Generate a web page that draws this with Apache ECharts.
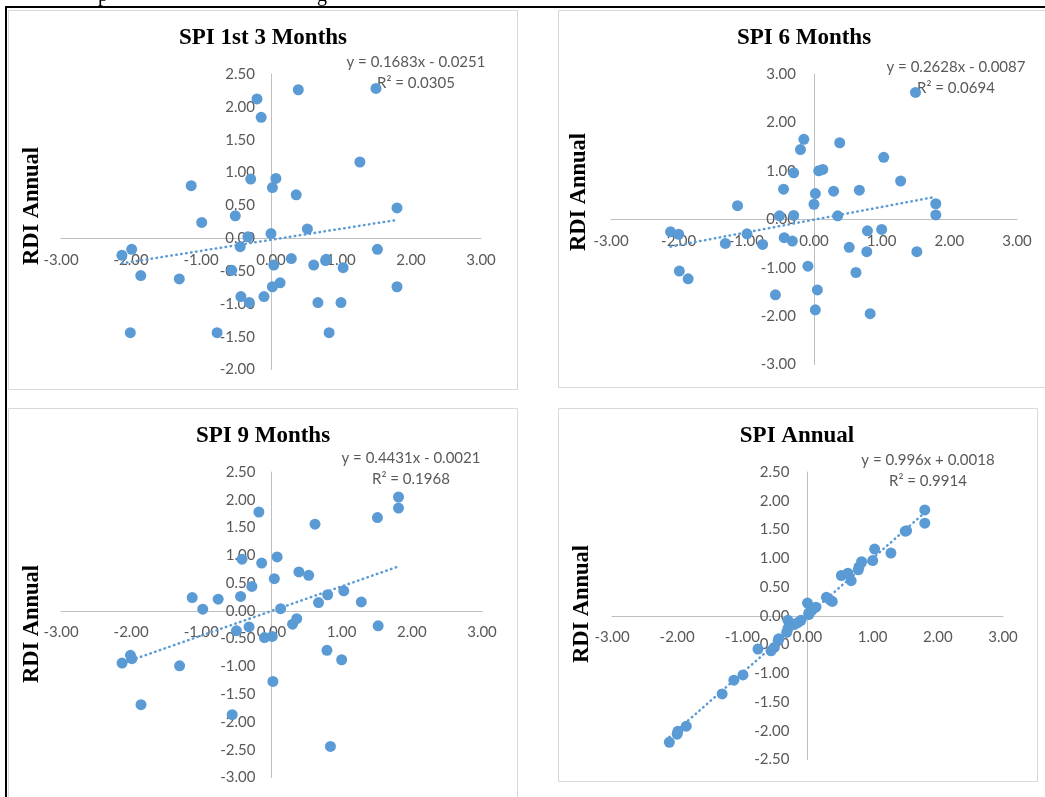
<!DOCTYPE html>
<html>
<head>
<meta charset="utf-8">
<script src="https://cdn.jsdelivr.net/npm/echarts@6/dist/echarts.min.js"></script>
<style>
  html, body { margin: 0; padding: 0; background: #fff; }
  #chart { width: 1045px; height: 797px; }
</style>
</head>
<body>
<div id="chart"></div>
<script>
// ---- data: SPI (x) vs RDI Annual (y) for each accumulation period ----
const panelTitles = ['SPI 1st 3 Months', 'SPI 6 Months', 'SPI 9 Months', 'SPI Annual'];
const yAxisName = 'RDI Annual';

const spi3X = [-2.13,-1.99,-2.01,-1.86,-1.31,-1.14,-0.99,-0.77,-0.56,-0.51,-0.44,-0.43,-0.33,-0.31,-0.29,-0.20,-0.14,-0.10,0.00,0.02,0.02,0.04,0.07,0.13,0.29,0.36,0.39,0.52,0.61,0.67,0.78,0.79,0.83,1.00,1.03,1.27,1.50,1.52,1.80,1.80];
const spi3Y = [-0.26,-0.17,-1.44,-0.57,-0.62,0.80,0.24,-1.44,-0.49,0.34,-0.13,-0.89,0.02,-0.98,0.90,2.12,1.84,-0.89,0.07,0.77,-0.74,-0.41,0.91,-0.68,-0.31,0.66,2.26,0.14,-0.41,-0.98,-0.34,-0.32,-1.44,-0.98,-0.45,1.16,2.28,-0.17,0.46,-0.74];

const spi6X = [-2.12,-2.00,-1.99,-1.86,-1.31,-1.13,-0.99,-0.76,-0.57,-0.51,-0.45,-0.44,-0.32,-0.30,-0.30,-0.20,-0.15,-0.09,0.00,0.02,0.02,0.05,0.07,0.13,0.29,0.35,0.38,0.52,0.62,0.67,0.78,0.79,0.83,1.00,1.03,1.28,1.50,1.52,1.80,1.80];
const spi6Y = [-0.26,-0.31,-1.07,-1.23,-0.50,0.28,-0.30,-0.52,-1.56,0.07,0.62,-0.38,-0.45,0.08,0.96,1.44,1.65,-0.97,0.31,0.53,-1.87,-1.46,1.00,1.03,0.58,0.07,1.58,-0.58,-1.10,0.60,-0.67,-0.24,-1.95,-0.21,1.28,0.79,2.62,-0.67,0.32,0.09];

const spi9X = [-2.13,-2.01,-1.99,-1.86,-1.31,-1.13,-0.98,-0.76,-0.56,-0.50,-0.44,-0.42,-0.32,-0.28,-0.18,-0.14,-0.10,0.01,0.02,0.04,0.08,0.13,0.30,0.36,0.39,0.53,0.62,0.67,0.79,0.80,0.84,1.00,1.03,1.28,1.51,1.52,1.81,1.81];
const spi9Y = [-0.94,-0.80,-0.86,-1.69,-0.99,0.24,0.03,0.21,-1.87,-0.36,0.26,0.93,-0.29,0.44,1.78,0.86,-0.48,-0.46,-1.27,0.58,0.97,0.04,-0.24,-0.14,0.70,0.64,1.56,0.15,-0.71,0.29,-2.44,-0.88,0.36,0.16,1.68,-0.27,2.05,1.85];

const spiAnnX = [-2.12,-2.00,-1.99,-1.86,-1.31,-1.13,-0.99,-0.76,-0.56,-0.51,-0.45,-0.44,-0.32,-0.30,-0.30,-0.20,-0.15,-0.10,0.00,0.02,0.02,0.05,0.07,0.13,0.29,0.35,0.38,0.52,0.62,0.67,0.78,0.79,0.83,1.00,1.03,1.28,1.50,1.52,1.80,1.80];
const spiAnnY = [-2.20,-2.06,-2.01,-1.92,-1.36,-1.12,-1.03,-0.58,-0.61,-0.55,-0.43,-0.40,-0.29,-0.22,-0.08,-0.15,-0.12,-0.08,0.22,0.05,0.02,0.08,0.10,0.15,0.32,0.27,0.25,0.70,0.74,0.61,0.80,0.85,0.94,0.96,1.16,1.09,1.47,1.48,1.84,1.61];

// linear trendlines: y = slope * x + intercept
const trendSlope     = [0.1683, 0.2628, 0.4431, 0.996];
const trendIntercept = [-0.0251, -0.0087, -0.0021, 0.0018];
const trendR2        = ['0.0305', '0.0694', '0.1968', '0.9914'];

// axis ranges per panel [min, max, interval]
const xRange = [-3, 3, 1];
const yRanges = [[-2, 2.5, 0.5], [-3, 3, 1], [-3, 2.5, 0.5], [-2.5, 2.5, 0.5]];

// ---- layout ----
const grids = [
  { left: 61,  top: 74,  width: 420, height: 295.5 },
  { left: 611, top: 74,  width: 406, height: 290.5 },
  { left: 61,  top: 472, width: 421, height: 305.5 },
  { left: 612, top: 472, width: 391, height: 287.5 }
];
const titlePos = [[263, 38], [804, 38], [263, 436], [797, 436]];
const namePos  = [[32, 206], [579, 192], [32, 624], [582, 604]];
const eqPos    = [[416, 62, 83], [956, 67, 88], [411, 458, 479], [928, 460, 481]];
const frames   = [
  { x: 8.5,   y: 10.5,  w: 509, h: 379 },
  { x: 558.5, y: 10.5,  w: 520, h: 377 },
  { x: 8.5,   y: 408.5, w: 509, h: 420 },
  { x: 558.5, y: 408.5, w: 479, h: 373 }
];

const pointsX = [spi3X, spi6X, spi9X, spiAnnX];
const pointsY = [spi3Y, spi6Y, spi9Y, spiAnnY];

const BLUE = '#5b9bd5';
const GREY_TEXT = '#595959';
const AXIS_LINE = '#bfbfbf';
const LABEL_FONT = 'Lato, "Open Sans", sans-serif';
const SERIF = '"Liberation Serif", "DejaVu Serif", serif';

const fmt = v => v.toFixed(2);

const xAxes = [], yAxes = [], series = [], graphics = [];

grids.forEach((g, i) => {
  const yr = yRanges[i];
  // the axes cross at the origin: shift each axis from the grid edge to the other axis' zero
  const xShift = (0 - yr[0]) / (yr[1] - yr[0]) * g.height;
  const yShift = (0 - xRange[0]) / (xRange[1] - xRange[0]) * g.width;

  xAxes.push({
    type: 'value', gridIndex: i, position: 'bottom', offset: -xShift,
    min: xRange[0], max: xRange[1], interval: xRange[2],
    axisLine: { onZero: false, lineStyle: { color: AXIS_LINE, width: 1 } },
    axisTick: { show: false },
    splitLine: { show: false },
    axisLabel: { formatter: fmt, color: GREY_TEXT, fontSize: 15, fontFamily: LABEL_FONT, margin: 14 }
  });
  yAxes.push({
    type: 'value', gridIndex: i, position: 'left', offset: -yShift,
    min: yr[0], max: yr[1], interval: yr[2],
    axisLine: { onZero: false, lineStyle: { color: AXIS_LINE, width: 1 } },
    axisTick: { show: false },
    splitLine: { show: false },
    axisLabel: { formatter: fmt, color: GREY_TEXT, fontSize: 15, fontFamily: LABEL_FONT, margin: i % 2 ? 18 : 16 }
  });

  const xs = pointsX[i], ys = pointsY[i];
  const pts = xs.map((x, k) => [x, ys[k]]);
  series.push({
    type: 'scatter', xAxisIndex: i, yAxisIndex: i,
    data: pts, symbol: 'circle', symbolSize: 11,
    itemStyle: { color: BLUE, opacity: 1 },
    z: 2, silent: true
  });

  const xMin = Math.min(...xs), xMax = Math.max(...xs);
  const a = trendSlope[i], b = trendIntercept[i];
  series.push({
    type: 'line', xAxisIndex: i, yAxisIndex: i,
    data: [[xMin, a * xMin + b], [xMax, a * xMax + b]],
    symbol: 'none', silent: true, z: 3,
    lineStyle: { color: BLUE, width: 2.5, type: [0.5, 4.5], cap: 'round' }
  });

  const f = frames[i];
  graphics.push({
    type: 'rect', z: -1, silent: true,
    shape: { x: f.x, y: f.y, width: f.w, height: f.h },
    style: { fill: '#fff', stroke: '#d9d9d9', lineWidth: 1 }
  });
  graphics.push({
    type: 'text', silent: true,
    x: titlePos[i][0], y: titlePos[i][1],
    style: { text: panelTitles[i], fill: '#000', font: 'bold 23px ' + SERIF, align: 'center', verticalAlign: 'middle' }
  });
  graphics.push({
    type: 'text', silent: true,
    x: namePos[i][0], y: namePos[i][1], rotation: Math.PI / 2,
    style: { text: yAxisName, fill: '#000', font: 'bold 22.5px ' + SERIF, align: 'center', verticalAlign: 'middle' }
  });
  const sign = b < 0 ? ' - ' : ' + ';
  graphics.push({
    type: 'text', silent: true,
    x: eqPos[i][0], y: eqPos[i][1],
    style: { text: 'y = ' + a + 'x' + sign + Math.abs(b).toFixed(4), fill: GREY_TEXT, font: '15px ' + LABEL_FONT, align: 'center', verticalAlign: 'middle' }
  });
  graphics.push({
    type: 'text', silent: true,
    x: eqPos[i][0], y: eqPos[i][2],
    style: { text: 'R² = ' + trendR2[i], fill: GREY_TEXT, font: '15px ' + LABEL_FONT, align: 'center', verticalAlign: 'middle' }
  });
});

// page border lines and the clipped caption line above the figure
graphics.push({ type: 'rect', silent: true, z: 10, shape: { x: 5, y: 6, width: 1040, height: 2 }, style: { fill: '#000' } });
graphics.push({ type: 'rect', silent: true, z: 10, shape: { x: 5, y: 6, width: 2, height: 791 }, style: { fill: '#000' } });
graphics.push({ type: 'text', silent: true, x: 98, y: -14, style: { text: 'p', fill: '#000', font: '20px ' + SERIF, verticalAlign: 'top' } });
graphics.push({ type: 'text', silent: true, x: 317, y: -14, style: { text: 'g', fill: '#000', font: '20px ' + SERIF, verticalAlign: 'top' } });

const chart = echarts.init(document.getElementById('chart'), null, { renderer: 'canvas' });
chart.setOption({
  backgroundColor: '#fff',
  animation: false,
  grid: grids.map(g => Object.assign({ containLabel: false, outerBoundsMode: 'none', show: false }, g)),
  xAxis: xAxes,
  yAxis: yAxes,
  series: series,
  graphic: graphics
});
</script>
</body>
</html>
